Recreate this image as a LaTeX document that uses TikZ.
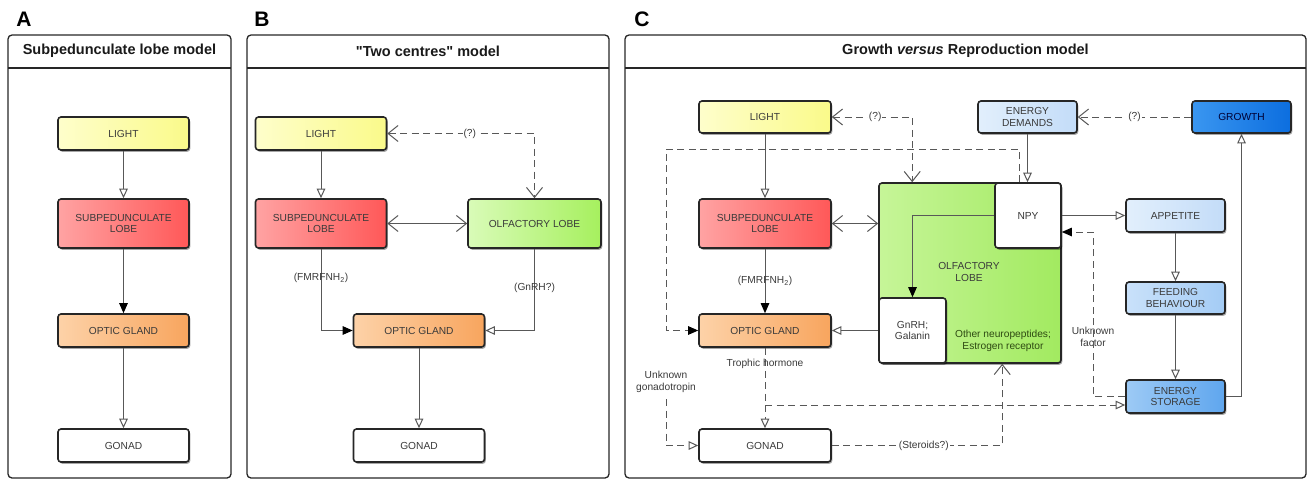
\documentclass[tikz,border=0pt]{standalone}
\usepackage{fontspec}
\setmainfont{Liberation Sans}
\usetikzlibrary{arrows.meta,shadows,calc}
\definecolor{lncol}{HTML}{585858}
\definecolor{yla}{HTML}{FEFECB}\definecolor{ylb}{HTML}{FAFA8A}
\definecolor{rda}{HTML}{FFA3A3}\definecolor{rdb}{HTML}{FF5858}
\definecolor{ora}{HTML}{FDD2A8}\definecolor{orb}{HTML}{F8A55E}
\definecolor{gra}{HTML}{D9FBB8}\definecolor{grb}{HTML}{A6F05E}
\definecolor{gca}{HTML}{C6F598}\definecolor{gcb}{HTML}{A2EA60}
\definecolor{lba}{HTML}{E2EFFC}\definecolor{lbb}{HTML}{C3DCF8}
\definecolor{fba}{HTML}{C9E1FA}\definecolor{fbb}{HTML}{A4CCF5}
\definecolor{esa}{HTML}{9DCAF5}\definecolor{esb}{HTML}{5FA6EE}
\definecolor{gwa}{HTML}{3A96F0}\definecolor{gwb}{HTML}{0C6EDF}
\definecolor{txt}{HTML}{3A3A3A}
\definecolor{dgrn}{HTML}{2E4A12}
\newcommand\bxf{\fontsize{10.2}{11.8}\selectfont}
\newcommand\ttlf{\fontsize{14.5}{16}\selectfont\bfseries}
\tikzset{
  box/.style={draw=black!85, line width=1.6pt, rounded corners=3pt, align=center,
    font=\bxf, text=txt, inner sep=1pt,
    drop shadow={shadow xshift=1.3pt, shadow yshift=-1.8pt, opacity=0.35, fill=black}},
  std/.style={box, minimum width=131pt, minimum height=33pt},
  tall/.style={box, minimum width=131pt, minimum height=49pt},
  sml/.style={box, minimum width=99pt, minimum height=33pt},
  yelf/.style={left color=yla, right color=ylb},
  redf/.style={left color=rda, right color=rdb},
  oraf/.style={left color=ora, right color=orb},
  grnf/.style={left color=gra, right color=grb},
  whtf/.style={fill=white},
  ln/.style={draw=lncol, line width=1pt},
  dl/.style={ln, dash pattern=on 7pt off 4.5pt},
  oa/.style={-{Triangle[open,length=9.5pt,width=8.5pt,fill=white]}},
  fa/.style={-{Triangle[length=10pt,width=8.5pt,fill=black,color=black]}},
  ca/.style={-{Straight Barb[length=10pt,width=16pt]}},
  cc/.style={{Straight Barb[length=10pt,width=16pt]}-{Straight Barb[length=10pt,width=16pt]}},
  lbl/.style={font=\bxf, text=txt, inner sep=1pt, align=center},
  frame/.style={draw=black!85, line width=1.3pt, rounded corners=4pt},
  sep/.style={draw=black!85, line width=1.3pt},
  ttl/.style={font=\ttlf, text=black!90},
  letter/.style={font=\fontsize{21}{21}\selectfont\bfseries, text=black}
}
\begin{document}
\begin{tikzpicture}[x=1pt,y=-1pt]
\useasboundingbox (0,0) rectangle (1309,479);
% ---------- frames ----------
\draw[frame] (8,35) rectangle (231,478);
\draw[sep] (8,68) -- (231,68);
\draw[frame] (247,35) rectangle (609,478);
\draw[sep] (247,68) -- (609,68);
\draw[frame] (625,35) rectangle (1306,478);
\draw[sep] (625,68) -- (1306,68);
\node[letter] (labA) at (24,19) {A};
\node[letter] (labB) at (262,19) {B};
\node[letter] (labC) at (642,19) {C};
\node[ttl] (ttlA) at (119.5,51) {Subpedunculate lobe model};
\node[ttl] (ttlB) at (428,51) {\textquotedbl Two centres\textquotedbl\ model};
\node[ttl] (ttlC) at (965.5,51) {Growth \textit{versus} Reproduction model};
% ---------- panel A ----------
\node[std,yelf] (lightA) at (123.5,133.5) {LIGHT};
\node[tall,redf] (subA) at (123.5,223.5) {SUBPEDUNCULATE\\LOBE};
\node[std,oraf] (ogA) at (123.5,330.5) {OPTIC GLAND};
\node[std,whtf] (gonA) at (123.5,445.5) {GONAD};
\draw[ln,oa] (lightA) -- (subA);
\draw[ln,fa] (subA) -- (ogA);
\draw[ln,oa] (ogA) -- (gonA);
% ---------- panel B ----------
\node[std,yelf] (lightB) at (321,133.5) {LIGHT};
\node[tall,redf] (subB) at (321,223.5) {SUBPEDUNCULATE\\LOBE};
\node[tall,grnf,minimum width=133pt] (olfB) at (534.5,223.5) {OLFACTORY LOBE};
\node[std,oraf] (ogB) at (419,330.5) {OPTIC GLAND};
\node[std,whtf] (gonB) at (419,445.5) {GONAD};
\draw[ln,oa] (lightB) -- (subB);
\draw[ln,cc] (subB) -- (olfB);
\draw[dl,cc] (lightB.east) -| node[lbl,fill=white,pos=0.28]{(?)} (olfB.north);
\draw[ln,fa] (subB.south) |- node[lbl,pos=0.18]{(FMRFNH\textsubscript{2})} (ogB.west);
\draw[ln,oa] (olfB.south) |- node[lbl,pos=0.24]{(GnRH?)} (ogB.east);
\draw[ln,oa] (ogB) -- (gonB);
% ---------- panel C ----------
\node[std,yelf,minimum width=132pt,minimum height=32pt] (lightC) at (765,117) {LIGHT};
\node[tall,redf,minimum width=132pt] (subC) at (765,223.5) {SUBPEDUNCULATE\\LOBE};
\node[std,oraf,minimum width=132pt] (ogC) at (765,330.5) {OPTIC GLAND};
\node[std,whtf,minimum width=132pt] (gonC) at (765,445.5) {GONAD};
\node[box,left color=gca,right color=gcb,minimum width=182pt,minimum height=180pt] (olfC) at (970,273) {};
\node[lbl] (olfT) at (969,272) {OLFACTORY\\LOBE};
\node[lbl,text=dgrn] (othT) at (1003,341) {Other neuropeptides;\\Estrogen receptor};
\node[box,whtf,minimum width=66pt,minimum height=65pt] (npyC) at (1028,215.5) {NPY};
\node[box,whtf,minimum width=67pt,minimum height=65pt] (gnrhC) at (912.5,330.5) {GnRH;\\Galanin};
\node[sml,left color=lba,right color=lbb,minimum height=32pt] (edC) at (1027.5,117) {ENERGY\\DEMANDS};
\node[sml,left color=gwa,right color=gwb,minimum height=32pt,text=black!80!blue] (growC) at (1241.5,117) {GROWTH};
\node[sml,left color=lba,right color=lbb] (appC) at (1175.5,215.5) {APPETITE};
\node[sml,left color=fba,right color=fbb,minimum height=32pt] (feedC) at (1175.5,298) {FEEDING\\BEHAVIOUR};
\node[sml,left color=esa,right color=esb] (esC) at (1175.5,396.5) {ENERGY\\STORAGE};
\coordinate (lp) at (666,149);
\coordinate (uf) at (1093,232);
\coordinate (br) at (765,405);
\coordinate (ug) at (666,399);
\node[lbl] (ufl) at (1093,337) {Unknown\\factor};
\node[lbl] (ugl) at (666,382) {Unknown\\gonadotropin};
% connectors C
\draw[ln,oa] (lightC) -- (subC);
\draw[ln,cc] (subC.east) -- (subC.east -| olfC.west);
\draw[dl,cc] (lightC.east) -| node[lbl,fill=white,pos=0.27]{(?)} ($(olfC.north west)+(34,0)$);
\draw[dl,fa] ($(npyC.north)+(-9,0)$) |- (lp) |- (ogC.west);
\draw[ln,fa] (subC) -- node[lbl]{(FMRFNH\textsubscript{2})} (ogC);
\draw[ln,oa] (gnrhC.west) -- (ogC.east);
\draw[ln,fa] (npyC.west) -| (gnrhC.north);
\draw[ln,oa] (edC.south) -- (edC.south |- npyC.north);
\draw[dl,ca] (growC.west) -- node[lbl,fill=white]{(?)} (edC.east);
\draw[ln,oa] (npyC.east) -- (npyC.east -| appC.west);
\draw[ln,oa] (appC) -- (feedC);
\draw[ln,oa] (feedC) -- (esC);
\draw[ln,oa] (esC.east) -| (growC.south);
\draw[dl,fa] (esC.west) -| (uf) -- (uf -| npyC.east);
\draw[dl,oa] (ogC.south) -- node[lbl,pos=0.2]{Trophic hormone} (gonC.north);
\draw[dl,oa] (br) -- (br -| esC.west);
\draw[dl,ca] (gonC.east) -| node[lbl,fill=white,pos=0.27]{(Steroids?)} ($(olfC.south west)+(124,0)$);
\draw[dl,oa] (ug) |- (gonC.west);
\end{tikzpicture}
\end{document}
